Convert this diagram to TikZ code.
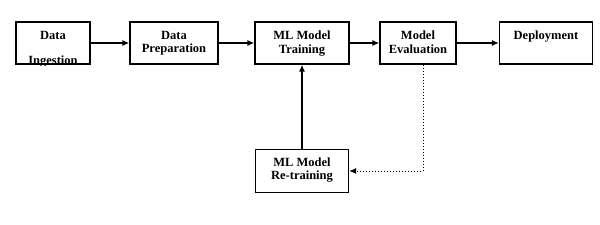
\documentclass[tikz,border=0pt]{standalone}
\usepackage{fontspec}
\setmainfont{Liberation Serif}
\usepackage{tikz}
\usetikzlibrary{arrows.meta, positioning}
\tikzset{
  stage/.style     = {rectangle, draw=black, line width=1.3pt, fill=white,
                      inner sep=0pt},
  stagetext/.style = {align=center, inner sep=0pt, font=\fontsize{12.5}{13.5}\selectfont\bfseries},
  flow/.style      = {-{Latex[length=7pt, width=6pt]}, line width=1.3pt, black},
  feedback/.style  = {-{Latex[length=7pt, width=6pt]}, line width=1pt, dotted, black},
}

\begin{document}
\begin{tikzpicture}[x=1pt, y=-1pt]

  \useasboundingbox (0,0) rectangle (600,225);

  % Pipeline boxes
  \node[stage, minimum width=74pt, minimum height=42pt] (ingest)  at (53,43)  {};
  \node[stage, minimum width=88pt, minimum height=42pt] (prep)    at (174,43) {};
  \node[stage, minimum width=94pt, minimum height=42pt] (train)   at (302,43) {};
  \node[stage, minimum width=76pt, minimum height=42pt] (eval)    at (418,43) {};
  \node[stage, minimum width=93pt, minimum height=42pt] (deploy)  at (546,43) {};
  \node[stage, minimum width=93pt, minimum height=43pt] (retrain) at (302,171) {};

  % Box texts (top aligned)
  \node[stagetext, below=9.5pt of ingest.north] (ingestT) {Data};
  \begin{scope}
    \clip (ingest.south west) ++(1pt,-1.2pt) rectangle ([xshift=-1pt]ingest.north east);
    \node[stagetext, below=34pt of ingest.north] (ingestB) {Ingestion};
  \end{scope}
  \node[stagetext, below=9.5pt of prep.north]   (prepT)   {Data\\Preparation};
  \node[stagetext, below=9.5pt of train.north]  (trainT)  {ML Model\\Training};
  \node[stagetext, below=9.5pt of eval.north]   (evalT)   {Model\\Evaluation};
  \node[stagetext, below=9.5pt of deploy.north] (deployT) {Deployment};
  \node[stagetext] (retrainT) at ([yshift=1pt]retrain) {ML Model\\Re-training};

  % Main flow
  \draw[flow] (ingest) -- (prep);
  \draw[flow] (prep) -- (train);
  \draw[flow] (train) -- (eval);
  \draw[flow] (eval) -- (deploy);
  \draw[flow] (retrain) -- (train);

  % Feedback loop
  \coordinate (corner) at ([xshift=5pt]eval.south |- retrain.east);
  \draw[feedback] ([xshift=5pt]eval.south) -- (corner) -- (retrain.east);

\end{tikzpicture}
\end{document}
